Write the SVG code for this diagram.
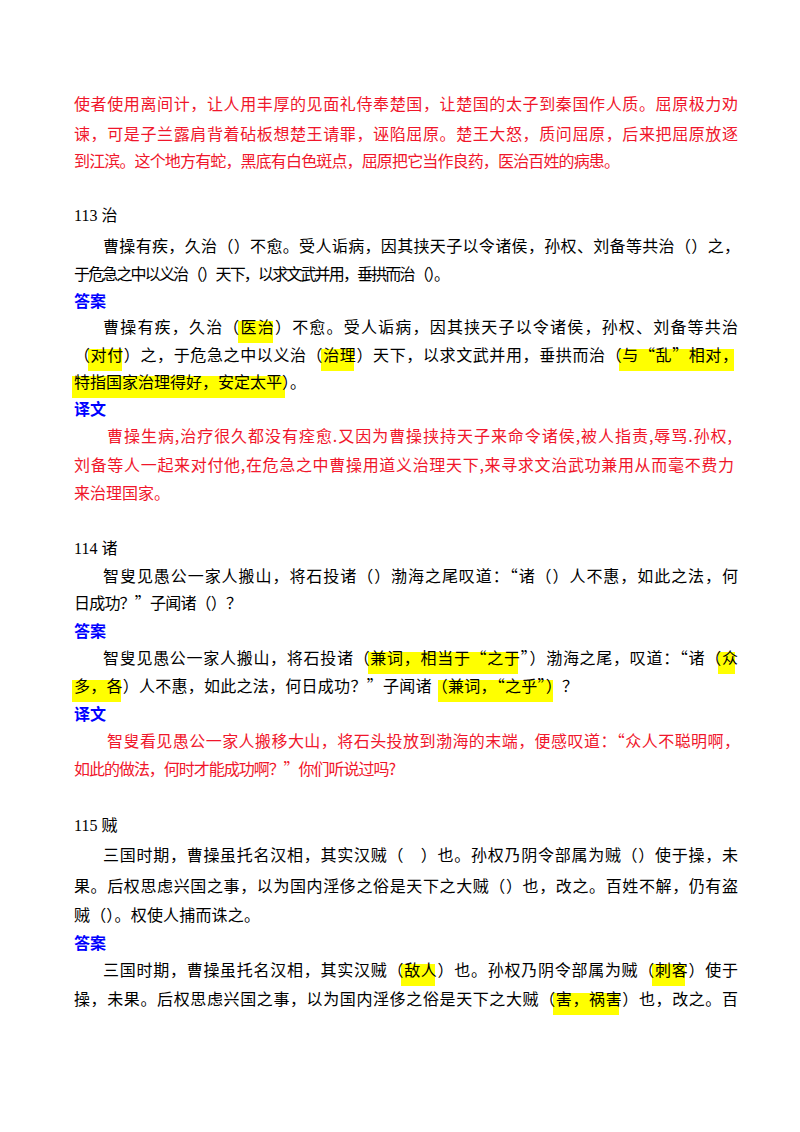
<svg xmlns="http://www.w3.org/2000/svg" width="800" height="1132" viewBox="0 0 800 1132">
<style>
text{font-family:"Noto Sans CJK SC","Liberation Serif",serif;font-size:16px;fill:#000}
.r{fill:#f0162b}
.b{fill:#0000ff;font-weight:bold}
.n{font-family:"Liberation Serif","Noto Sans CJK SC",serif}
.h{fill:#ffff00}
</style>
<rect width="800" height="1132" fill="#fff"/>
<g id="highlights">
<rect class="h" x="238" y="321" width="35" height="22"/>
<rect class="h" x="88" y="349" width="34" height="22"/>
<rect class="h" x="321" y="349" width="33" height="22"/>
<rect class="h" x="619" y="349" width="115" height="22"/>
<rect class="h" x="72" y="376" width="213" height="22"/>
<rect class="h" x="368" y="652" width="150" height="22"/>
<rect class="h" x="718" y="652" width="17" height="22"/>
<rect class="h" x="72" y="680" width="49" height="22"/>
<rect class="h" x="438" y="680" width="115" height="22"/>
<rect class="h" x="401" y="964" width="34" height="22"/>
<rect class="h" x="652" y="964" width="33" height="22"/>
<rect class="h" x="553" y="993" width="66" height="22"/>
</g>
<g id="text">
<text class="r" x="74" y="110" textLength="664" lengthAdjust="spacing">使者使用离间计，让人用丰厚的见面礼侍奉楚国，让楚国的太子到秦国作人质。屈原极力劝</text>
<text class="r" x="74" y="140" textLength="664" lengthAdjust="spacing">谏，可是子兰露肩背着砧板想楚王请罪，诬陷屈原。楚王大怒，质问屈原，后来把屈原放逐</text>
<text class="r" x="74" y="167" textLength="546" lengthAdjust="spacing">到江滨。这个地方有蛇，黑底有白色斑点，屈原把它当作良药，医治百姓的病患。</text>

<text class="n" x="74" y="221">113 治</text>
<text x="103" y="252" textLength="637" lengthAdjust="spacing">曹操有疾，久治（）不愈。受人诟病，因其挟天子以令诸侯，孙权、刘备等共治（）之，</text>
<text x="74" y="280" textLength="376" lengthAdjust="spacing">于危急之中以义治（）天下，以求文武并用，垂拱而治（）。</text>
<text class="b" x="74" y="307">答案</text>
<text x="103" y="333" textLength="635" lengthAdjust="spacing">曹操有疾，久治（医治）不愈。受人诟病，因其挟天子以令诸侯，孙权、刘备等共治</text>
<text x="74" y="361" textLength="664" lengthAdjust="spacing">（对付）之，于危急之中以义治（治理）天下，以求文武并用，垂拱而治（与“乱”相对，</text>
<text x="74" y="388" textLength="232" lengthAdjust="spacing">特指国家治理得好，安定太平）。</text>
<text class="b" x="74" y="415">译文</text>
<text class="r" x="107" y="442" textLength="625" lengthAdjust="spacing">曹操生病,治疗很久都没有痊愈.又因为曹操挟持天子来命令诸侯,被人指责,辱骂.孙权,</text>
<text class="r" x="74" y="471" textLength="660" lengthAdjust="spacing">刘备等人一起来对付他,在危急之中曹操用道义治理天下,来寻求文治武功兼用从而毫不费力</text>
<text class="r" x="74" y="499">来治理国家。</text>

<text class="n" x="74" y="554">114 诸</text>
<text x="103" y="582" textLength="635" lengthAdjust="spacing">智叟见愚公一家人搬山，将石投诸（）渤海之尾叹道：“诸（）人不惠，如此之法，何</text>
<text x="74" y="609" textLength="168" lengthAdjust="spacing">日成功？”子闻诸（）？</text>
<text class="b" x="74" y="637">答案</text>
<text x="103" y="664" textLength="635" lengthAdjust="spacing">智叟见愚公一家人搬山，将石投诸（兼词，相当于“之于”）渤海之尾，叹道：“诸（众</text>
<text x="74" y="692" textLength="504" lengthAdjust="spacing">多，各）人不惠，如此之法，何日成功？”子闻诸（兼词，“之乎”）？</text>
<text class="b" x="74" y="720">译文</text>
<text class="r" x="107" y="747" textLength="633" lengthAdjust="spacing">智叟看见愚公一家人搬移大山，将石头投放到渤海的末端，便感叹道：“众人不聪明啊，</text>
<text class="r" x="74" y="775" textLength="322" lengthAdjust="spacing">如此的做法，何时才能成功啊？”你们听说过吗?</text>

<text class="n" x="74" y="831">115 贼</text>
<text x="103" y="861" textLength="635" lengthAdjust="spacing">三国时期，曹操虽托名汉相，其实汉贼（　）也。孙权乃阴令部属为贼（）使于操，未</text>
<text x="74" y="892" textLength="664" lengthAdjust="spacing">果。后权思虑兴国之事，以为国内淫侈之俗是天下之大贼（）也，改之。百姓不解，仍有盗</text>
<text x="74" y="921" textLength="186" lengthAdjust="spacing">贼（）。权使人捕而诛之。</text>
<text class="b" x="74" y="949">答案</text>
<text x="103" y="976" textLength="635" lengthAdjust="spacing">三国时期，曹操虽托名汉相，其实汉贼（敌人）也。孙权乃阴令部属为贼（刺客）使于</text>
<text x="74" y="1005" textLength="664" lengthAdjust="spacing">操，未果。后权思虑兴国之事，以为国内淫侈之俗是天下之大贼（害，祸害）也，改之。百</text>
</g>
</svg>
